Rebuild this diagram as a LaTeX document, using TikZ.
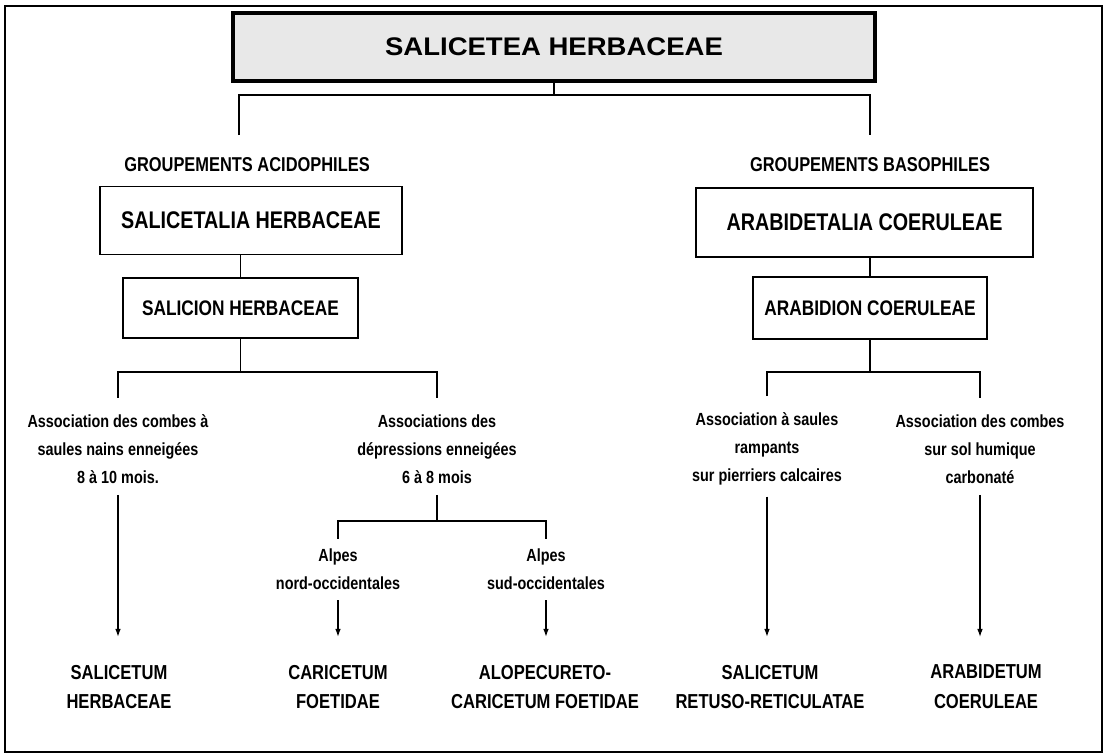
\documentclass[tikz,border=0pt]{standalone}
\usepackage{fontspec}
\setmainfont{Liberation Sans}
\newfontfamily\narrowfont[FakeStretch=0.82]{Liberation Sans}
\newfontfamily\widefont[FakeStretch=1.08]{Liberation Sans}
\usetikzlibrary{arrows.meta, positioning}

\begin{document}
\begin{tikzpicture}[
            x=0.02cm, y=-0.02cm,
            >={Latex[length=4.5pt,width=3.2pt]},
            % Styles
            classbox/.style={rectangle, draw, line width=1.8pt, fill=black!9, minimum width=12.84cm, minimum height=1.36cm, font=\widefont\bfseries\fontsize{14.5}{17}\selectfont},
            orderbox/.style={rectangle, draw, line width=1.1pt, minimum height=1.36cm, font=\narrowfont\bfseries\fontsize{13.7}{16}\selectfont},
            alliancebox/.style={rectangle, draw, line width=0.9pt, minimum height=1.22cm, font=\narrowfont\bfseries\fontsize{12}{14}\selectfont},
            grouplabel/.style={font=\narrowfont\bfseries\fontsize{11.4}{14}\selectfont},
            habitat/.style={align=center, font=\narrowfont\bfseries\fontsize{10}{15.9}\selectfont},
            assoc/.style={align=center, font=\narrowfont\bfseries\fontsize{11.5}{17}\selectfont},
            link/.style={line width=0.6pt},
            arrow/.style={line width=0.6pt, ->}
        ]

        \useasboundingbox (0,0) rectangle (1108,755);
        \draw[line width=1.2pt] (5,6) rectangle (1102,752);

        % --- CLASS AND ORDERS ---
        \node[classbox] (classe) at (554,47) {SALICETEA HERBACEAE};
        \node[grouplabel] (acido) at (247,165) {GROUPEMENTS ACIDOPHILES};
        \node[grouplabel] (baso) at (870,165) {GROUPEMENTS BASOPHILES};
        \node[orderbox, minimum width=6.04cm] (salicetalia) at (251,220.5) {SALICETALIA HERBACEAE};
        \node[orderbox, minimum width=6.74cm, minimum height=1.38cm] (arabidetalia) at (864.5,222.5) {ARABIDETALIA COERULEAE};

        % --- ALLIANCES ---
        \node[alliancebox, minimum width=4.7cm, minimum height=1.2cm] (salicion) at (240.5,308) {SALICION HERBACEAE};
        \node[alliancebox, minimum width=4.68cm, minimum height=1.24cm] (arabidion) at (870,308) {ARABIDION COERULEAE};

        % --- HABITATS ---
        \node[habitat] (combes) at (118,449) {Association des combes à\\saules nains enneigées\\8 à 10 mois.};
        \node[habitat] (depress) at (437,449) {Associations des\\dépressions enneigées\\6 à 8 mois};
        \node[habitat] (rampants) at (767,449) {Association à saules\\rampants\\sur pierriers calcaires};
        \node[habitat] (humique) at (980,449) {Association des combes\\sur sol humique\\carbonaté};
        \node[habitat] (nordocc) at (338,569) {Alpes\\nord-occidentales};
        \node[habitat] (sudocc) at (546,569) {Alpes\\sud-occidentales};

        % --- ASSOCIATIONS ---
        \node[assoc] (salherb) at (119,687) {SALICETUM\\HERBACEAE};
        \node[assoc] (caricetum) at (338,687) {CARICETUM\\FOETIDAE};
        \node[assoc] (alopec) at (545,687) {ALOPECURETO-\\CARICETUM FOETIDAE};
        \node[assoc] (retuso) at (770,687) {SALICETUM\\RETUSO-RETICULATAE};
        \node[assoc] (arabidetum) at (986,687) {ARABIDETUM\\COERULEAE};

        % --- TREE LINES ---
        \coordinate (forkClass) at (554,95);
        \coordinate (tipAcido) at (239,135);
        \coordinate (tipBaso) at (870,135);
        \draw[link] (classe) -- (forkClass);
        \draw[link] (tipAcido) |- (forkClass) -| (tipBaso);

        \draw[link] (salicetalia.south -| salicion) -- (salicion);
        \draw[link] (arabidetalia.south -| arabidion) -- (arabidion);

        \coordinate (forkAcido) at (salicion |- 0,372);
        \draw[link] (salicion) -- (forkAcido);
        \draw[link] ([yshift=6pt]combes.north) |- (forkAcido) -| ([yshift=6pt]depress.north);

        \coordinate (forkBaso) at (arabidion |- 0,372);
        \draw[link] (arabidion) -- (forkBaso);
        \draw[link] ([yshift=6pt]rampants.north) |- (forkBaso) -| ([yshift=6pt]humique.north);

        \coordinate (forkDepress) at (depress |- 0,521);
        \draw[link, shorten <=3pt] (depress) -- (forkDepress);
        \draw[link] ([yshift=2pt]nordocc.north) |- (forkDepress) -| ([yshift=2pt]sudocc.north);

        % --- ARROWS DOWN TO ASSOCIATIONS ---
        \draw[arrow, shorten <=3pt, shorten >=12.5pt] (combes) -- (combes |- salherb.north);
        \draw[arrow, shorten <=2.5pt, shorten >=12.5pt] (nordocc) -- (nordocc |- caricetum.north);
        \draw[arrow, shorten <=2.5pt, shorten >=12.5pt] (sudocc) -- (sudocc |- alopec.north);
        \draw[arrow, shorten <=3pt, shorten >=12.5pt] (rampants) -- (rampants |- retuso.north);
        \draw[arrow, shorten <=3pt, shorten >=12.5pt] (humique) -- (humique |- arabidetum.north);

        \end{tikzpicture}
\end{document}
